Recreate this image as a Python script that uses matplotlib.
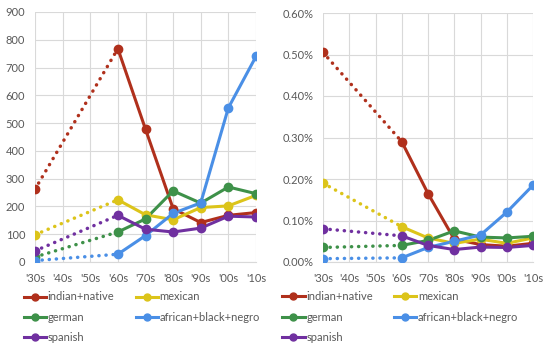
#!/usr/bin/env python3
# -*- coding: utf-8 -*-

import numpy as np
from matplotlib import pyplot as plt
from matplotlib.ticker import PercentFormatter, MultipleLocator

decades = ["'30s", "'40s", "'50s", "'60s", "'70s", "'80s", "'90s", "'00s", "'10s"]
# decades that carry data: '30s, then '60s onwards
data_idx = [0, 3, 4, 5, 6, 7, 8]

names = ["indian+native", "mexican", "german", "african+black+negro", "spanish"]
colors = ["#B0301C", "#DCC41A", "#3E9149", "#4A8FE6", "#7030A0"]

# counts (left panel)
counts_indian = [262, 768, 478, 192, 142, 168, 178]
counts_mexican = [98, 224, 170, 152, 196, 202, 240]
counts_german = [18, 108, 155, 256, 212, 270, 246]
counts_african = [5, 28, 95, 175, 213, 555, 740]
counts_spanish = [40, 168, 118, 108, 122, 165, 162]

# share of all words, in percent (right panel)
share_indian = [0.505, 0.290, 0.165, 0.055, 0.042, 0.038, 0.045]
share_mexican = [0.190, 0.085, 0.058, 0.045, 0.055, 0.045, 0.058]
share_german = [0.035, 0.040, 0.052, 0.075, 0.060, 0.058, 0.062]
share_african = [0.008, 0.010, 0.035, 0.050, 0.065, 0.120, 0.185]
share_spanish = [0.080, 0.063, 0.040, 0.030, 0.036, 0.035, 0.040]

counts = [counts_indian, counts_mexican, counts_german, counts_african, counts_spanish]
shares = [share_indian, share_mexican, share_german, share_african, share_spanish]

plt.rcParams['font.family'] = ['Lato', 'DejaVu Sans']
TXT = "#595959"
GRID = "#D9D9D9"
FS = 8


def draw_panel(ax, series, scale=1.0):
    x = np.array(data_idx)
    for vals, name, c in zip(series, names, colors):
        y = np.array(vals) * scale
        # dotted gap between '30s and '60s
        ax.plot(x[:2], y[:2], color=c, lw=2.5, linestyle=(0, (0.05, 2.0)),
                dash_capstyle='round', zorder=2)
        ax.plot(x[1:], y[1:], color=c, lw=2.2, zorder=3)
        ax.plot(x, y, 'o', color=c, ms=6, zorder=4)
    ax.set_xlim(0, len(decades) - 1)
    ax.set_xticks(range(len(decades)))
    ax.set_xticklabels(decades)
    ax.grid(True, color=GRID, lw=0.8)
    ax.set_axisbelow(True)
    for s in ax.spines.values():
        s.set_visible(False)
    ax.spines['bottom'].set_visible(True)
    ax.spines['bottom'].set_color(GRID)
    ax.tick_params(length=0, colors=TXT, labelsize=FS)
    ax.tick_params(axis='x', pad=8)
    ax.tick_params(axis='y', pad=7)


def add_legend(ax, x0):
    hs = [plt.Line2D([], [], color=c, lw=2.2, marker='o', ms=5) for c in colors]
    order = [0, 2, 4, 1, 3]
    leg = ax.legend([hs[i] for i in order], [names[i] for i in order], ncol=2,
                    loc='upper left', bbox_to_anchor=(x0, -0.1), frameon=False,
                    fontsize=FS, handlelength=2.0, handletextpad=0.15,
                    columnspacing=1.9, labelspacing=0.85, borderaxespad=0)
    for t in leg.get_texts():
        t.set_color(TXT)


fig = plt.figure(figsize=(5.5, 3.52), dpi=100)
ax1 = fig.add_axes([35 / 550, 90 / 352, 221 / 550, 250 / 352])
ax2 = fig.add_axes([323 / 550, 90 / 352, 210 / 550, 249 / 352])

draw_panel(ax1, counts)
ax1.set_ylim(0, 900)
ax1.yaxis.set_major_locator(MultipleLocator(100))

draw_panel(ax2, shares, scale=0.01)
ax2.set_ylim(0, 0.006)
ax2.yaxis.set_major_locator(MultipleLocator(0.001))
ax2.yaxis.set_major_formatter(PercentFormatter(xmax=1, decimals=2))

add_legend(ax1, -0.07)
add_legend(ax2, -0.215)

fig.savefig("out.png", dpi=100)
